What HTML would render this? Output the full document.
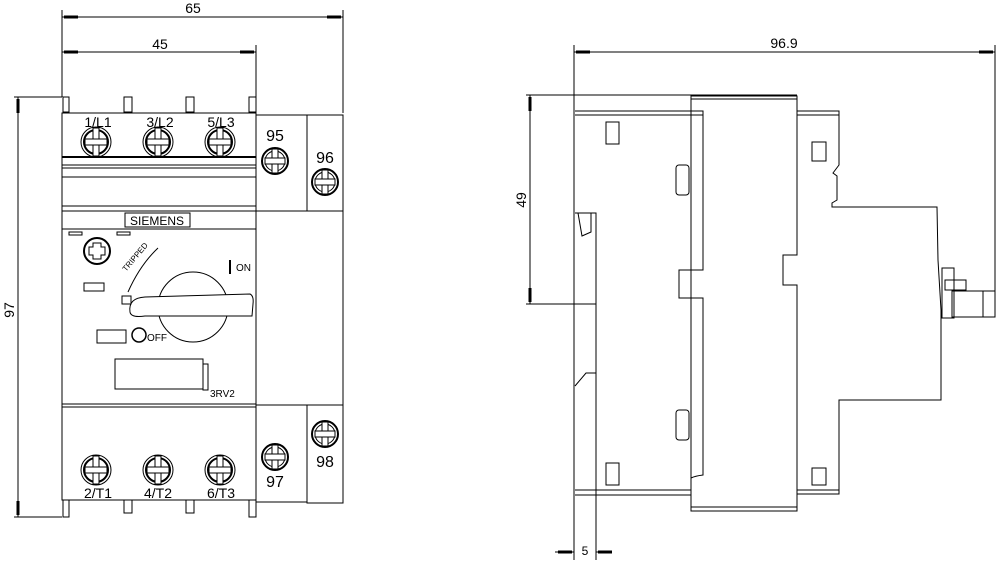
<!DOCTYPE html>
<html><head><meta charset="utf-8"><style>
html,body{margin:0;padding:0;background:#fff;}
svg{display:block;}
text{font-family:"Liberation Sans",sans-serif;fill:#000;}
</style></head><body>
<svg width="1000" height="568" viewBox="0 0 1000 568" xmlns="http://www.w3.org/2000/svg">
<defs>
<g id="scr">
<circle r="15" fill="none" stroke="#000" stroke-width="1"/>
<circle r="12" fill="none" stroke="#000" stroke-width="2"/>
<rect x="-3" y="-14" width="6" height="28" fill="#fff" stroke="#000"/>
<rect x="-11" y="-3" width="22" height="6" fill="#fff" stroke="#000"/>
</g>
<g id="scr2">
<circle r="13" fill="none" stroke="#000" stroke-width="2"/>
<circle r="10" fill="none" stroke="#000" stroke-width="1"/>
<rect x="-3" y="-12" width="6" height="24" fill="#fff" stroke="#000"/>
<rect x="-10" y="-3" width="20" height="6" fill="#fff" stroke="#000"/>
</g>
</defs>
<g fill="none" stroke="#000" stroke-width="1">
<!-- front dims -->
<line x1="62" y1="10" x2="62" y2="97"/>
<line x1="343" y1="10" x2="343" y2="113"/>
<line x1="256" y1="45" x2="256" y2="113"/>
<line x1="62" y1="17" x2="343" y2="17"/>
<line x1="62" y1="52" x2="256" y2="52"/>
<line x1="14" y1="97" x2="62" y2="97"/>
<line x1="14" y1="517" x2="62" y2="517"/>
<line x1="18" y1="97" x2="18" y2="517"/>
<!-- front body -->
<rect x="62" y="113" width="194" height="387"/>
<line x1="62" y1="157" x2="256" y2="157" stroke-width="2"/>
<line x1="62" y1="165" x2="256" y2="165"/>
<line x1="62" y1="168" x2="256" y2="168"/>
<line x1="62" y1="177" x2="256" y2="177"/>
<line x1="62" y1="206" x2="256" y2="206"/>
<line x1="62" y1="211" x2="256" y2="211"/>
<line x1="62" y1="229" x2="256" y2="229"/>
<line x1="62" y1="404" x2="256" y2="404"/>
<line x1="62" y1="407" x2="256" y2="407"/>
<!-- tabs -->
<rect x="63" y="97" width="6" height="15"/><rect x="124" y="97" width="8" height="15"/><rect x="186" y="97" width="8" height="15"/><rect x="249" y="97" width="7" height="15"/>
<rect x="63" y="500" width="6" height="17"/><rect x="124" y="500" width="8" height="13"/><rect x="186" y="500" width="8" height="13"/><rect x="249" y="500" width="7" height="17"/>
<!-- right aux -->
<rect x="256" y="115" width="51" height="96"/>
<rect x="307" y="115" width="36" height="96"/>
<rect x="256" y="211" width="87" height="194"/>
<rect x="256" y="405" width="51" height="97"/>
<rect x="307" y="405" width="36" height="98"/>
<rect x="125" y="213" width="65" height="14"/>
<rect x="69" y="232" width="13" height="3"/><rect x="117" y="232" width="13" height="3"/>
<rect x="84" y="283" width="20" height="8"/>
<rect x="97" y="330" width="29" height="13"/>
<rect x="115" y="359" width="88" height="30"/>
<rect x="203" y="364" width="5" height="26"/>
<circle cx="97" cy="251" r="13" stroke-width="2"/>
<path d="M93 243h8v4h4v8h-4v4h-8v-4h-4v-8h4z"/>
<circle cx="193" cy="307" r="35"/>
<path d="M130 312 Q128 298 145 297 L250 294 Q254 296 253 304 L252 316 L145 316 Q131 318 130 312Z" fill="#fff"/>
<rect x="122" y="296" width="9" height="8"/>
<circle cx="139" cy="335" r="7" stroke-width="1.5"/>
<path d="M128 292 Q140 265 158 248"/>
<line x1="230" y1="260" x2="230" y2="274" stroke-width="2"/>
<!-- side view dims -->
<line x1="574" y1="45" x2="574" y2="560"/>
<line x1="995" y1="45" x2="995" y2="316"/>
<line x1="574" y1="52" x2="995" y2="52"/>
<line x1="526" y1="95" x2="797" y2="95"/>
<line x1="526" y1="304" x2="596" y2="304"/>
<line x1="530" y1="95" x2="530" y2="304"/>
<line x1="596" y1="530" x2="596" y2="560"/>
<line x1="555" y1="552" x2="574" y2="552"/>
<line x1="596" y1="552" x2="612" y2="552"/>
<!-- side body -->
<path d="M575 111 H703 V270 H679 V298 H703 V475 Q695 476 691 478 V495 H575"/>
<line x1="575" y1="115" x2="703" y2="115"/>
<line x1="575" y1="490" x2="691" y2="490"/>
<path d="M691 96 H797 V255 H783 V285 H797 V511 H691 Z"/>
<line x1="691" y1="99" x2="797" y2="99"/>
<line x1="691" y1="507" x2="797" y2="507"/>
<path d="M797 111 H839 V165 L833 173 L837 176 V200 L832 203 V207 H937 L938 260 L941 310 L941 400 H839 V494 H797"/>
<line x1="797" y1="115" x2="839" y2="115"/>
<line x1="797" y1="490" x2="839" y2="490"/>
<path d="M575 213 H596 V560"/>
<path d="M578 213 L582 236 L591 232 V213"/>
<path d="M575 386 L586 373 L596 373"/>
<rect x="606" y="122" width="13" height="22"/><rect x="606" y="463" width="13" height="22"/>
<rect x="676" y="165" width="13" height="30" rx="3"/><rect x="676" y="410" width="13" height="30" rx="3"/>
<rect x="812" y="142" width="14" height="19"/><rect x="812" y="468" width="14" height="17"/>
<rect x="942" y="268" width="12" height="50"/>
<rect x="952" y="291" width="43" height="26"/>
<rect x="945" y="280" width="21" height="10"/>
<line x1="983" y1="291" x2="983" y2="317"/>
</g>
<!-- arrow ticks -->
<g fill="#000">
<rect x="64" y="15.5" width="14" height="3"/><rect x="327" y="15.5" width="14" height="3"/>
<rect x="64" y="50.5" width="14" height="3"/><rect x="240" y="50.5" width="14" height="3"/>
<rect x="16.5" y="99" width="3" height="14"/><rect x="16.5" y="501" width="3" height="14"/>
<rect x="576" y="50.5" width="14" height="3"/><rect x="979" y="50.5" width="14" height="3"/>
<rect x="528.5" y="97" width="3" height="14"/><rect x="528.5" y="288" width="3" height="14"/>
<rect x="558" y="550.5" width="14" height="3"/><rect x="598" y="550.5" width="14" height="3"/>
</g>
<g font-size="14">
<text x="193" y="13" text-anchor="middle">65</text>
<text x="160" y="49" text-anchor="middle">45</text>
<text x="0" y="0" transform="translate(14,310) rotate(-90)" text-anchor="middle">97</text>
<text x="98" y="127" text-anchor="middle">1/L1</text>
<text x="160" y="127" text-anchor="middle">3/L2</text>
<text x="221" y="127" text-anchor="middle">5/L3</text>
<text x="98" y="498" text-anchor="middle">2/T1</text>
<text x="158" y="498" text-anchor="middle">4/T2</text>
<text x="221" y="498" text-anchor="middle">6/T3</text>
<text x="275" y="141" text-anchor="middle" font-size="16">95</text>
<text x="325" y="163" text-anchor="middle" font-size="16">96</text>
<text x="275" y="487" text-anchor="middle" font-size="16">97</text>
<text x="325" y="467" text-anchor="middle" font-size="16">98</text>
<text x="157" y="225" text-anchor="middle" font-size="12">SIEMENS</text>
<text x="236" y="271" font-size="10">ON</text>
<text x="147" y="341" font-size="10">OFF</text>
<text x="210" y="397" font-size="10">3RV2</text>
<text x="0" y="0" transform="translate(126,272) rotate(-50)" font-size="8">TRIPPED</text>
<text x="784" y="48" text-anchor="middle">96.9</text>
<text x="0" y="0" transform="translate(526,200) rotate(-90)" text-anchor="middle">49</text>
<text x="585" y="555" text-anchor="middle" font-size="12">5</text>
</g>
<use href="#scr" x="96" y="142"/><use href="#scr" x="158" y="142"/><use href="#scr" x="220" y="142"/>
<use href="#scr" x="96" y="470"/><use href="#scr" x="158" y="470"/><use href="#scr" x="220" y="470"/>
<use href="#scr2" x="275" y="161"/><use href="#scr2" x="325" y="182"/>
<use href="#scr2" x="275" y="457"/><use href="#scr2" x="325" y="434"/>
</svg>
</body></html>
